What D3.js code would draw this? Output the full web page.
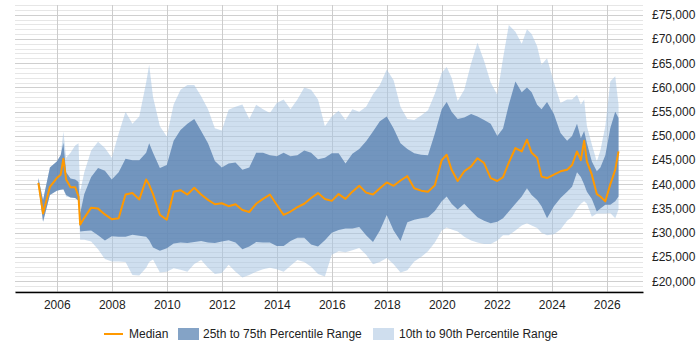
<!DOCTYPE html>
<html lang="en">
<head>
<meta charset="utf-8">
<title>Salary percentiles</title>
<script src="https://d3js.org/d3.v7.min.js"></script>
<style>
  body { margin: 0; background: #fff; }
  svg text { font-family: "Liberation Sans", Arial, sans-serif; font-size: 12px; fill: #222; }
</style>
</head>
<body>
<svg width="700" height="350"></svg>
<script>
// dates as decimal years
var dates = [2005.33,2005.5,2005.75,2006.0,2006.14,2006.24,2006.34,2006.5,2006.67,2006.79,2006.85,2007.0,2007.25,2007.5,2007.75,2008.0,
  2008.25,2008.5,2008.75,2009.0,2009.25,2009.36,2009.5,2009.75,2010.0,2010.25,2010.5,2010.75,2011.0,2011.25,2011.5,2011.75,
  2012.0,2012.25,2012.5,2012.75,2013.0,2013.25,2013.5,2013.75,2014.0,2014.25,2014.5,2014.75,2015.0,2015.25,2015.5,2015.75,
  2016.0,2016.25,2016.5,2016.75,2017.0,2017.25,2017.5,2017.75,2018.0,2018.25,2018.5,2018.75,2019.0,2019.25,2019.5,2019.75,
  2020.0,2020.18,2020.36,2020.58,2020.82,2021.07,2021.3,2021.54,2021.78,2022.02,2022.23,2022.44,2022.68,2022.91,2023.1,2023.27,
  2023.47,2023.63,2023.83,2024.08,2024.32,2024.56,2024.74,2024.92,2025.06,2025.18,2025.28,2025.46,2025.64,2025.77,2025.95,
  2026.13,2026.31,2026.43];

// values in £ thousands
var median = [40.3,34.0,39.5,41.3,42.0,45.3,41.0,39.4,39.4,37.5,31.7,33.1,35.2,35.0,33.8,32.8,
  33.0,37.9,38.2,36.9,41.0,39.9,38.0,33.7,32.7,38.5,38.8,37.9,39.3,37.9,36.8,35.9,
  36.1,35.5,35.9,34.7,34.3,36.0,37.0,37.9,35.8,33.7,34.4,35.3,36.0,37.2,38.2,37.0,
  36.6,38.0,37.0,38.5,39.7,38.3,37.9,39.2,40.4,39.7,40.8,41.7,39.2,38.7,38.5,39.8,
  45.0,46.1,43.0,40.7,42.7,43.7,45.4,44.4,41.3,40.7,41.5,44.5,47.5,46.8,49.2,46.5,
  45.5,41.6,41.3,42.0,42.7,43.0,44.0,46.8,45.0,49.0,44.7,42.0,38.0,37.5,36.5,
  40.0,43.0,46.8];
var p25 = [39.8,32.3,37.8,38.7,38.9,39.0,37.8,37.3,37.2,36.6,30.3,30.4,30.5,29.5,28.4,29.3,
  29.2,29.2,29.6,29.4,29.2,28.5,27.0,26.3,26.8,27.8,28.0,27.9,28.1,28.3,28.0,27.9,
  28.2,28.5,28.0,26.6,27.2,28.1,28.0,28.0,27.3,27.3,28.3,29.0,29.0,27.6,27.2,28.5,
  30.0,30.6,30.9,30.9,31.2,29.5,28.1,30.5,33.7,30.5,28.3,32.2,32.7,33.0,33.2,34.5,
  36.5,37.5,36.0,34.8,36.0,34.5,33.2,32.5,32.0,32.3,33.0,34.4,36.0,37.5,39.2,37.8,
  36.8,35.5,33.0,35.5,37.2,38.5,39.5,42.5,41.5,40.0,38.5,37.0,34.4,35.0,35.8,
  35.8,36.5,37.5];
var p75 = [41.3,36.8,43.5,44.7,46.0,48.6,42.5,41.2,41.0,40.5,34.0,38.0,41.5,43.4,42.8,41.0,
  42.5,45.3,45.0,45.0,46.5,48.5,46.5,43.4,44.0,49.0,51.2,52.5,53.5,51.0,48.5,44.8,
  43.5,44.3,44.5,43.0,43.5,46.5,46.5,46.0,45.8,46.5,45.8,46.0,47.0,46.5,45.2,45.5,
  46.4,46.4,44.3,46.3,47.3,48.9,50.9,53.0,54.0,51.5,48.5,47.3,46.4,46.1,46.0,50.5,
  55.5,57.0,55.0,53.5,53.8,54.5,54.0,53.3,52.5,50.0,51.5,56.4,61.2,59.0,60.0,59.0,
  56.4,55.5,57.0,54.5,50.6,49.0,50.0,52.5,49.5,51.0,48.5,44.7,42.7,43.5,46.0,
  51.6,55.0,53.7];
var p10 = [39.8,32.3,37.8,38.7,38.9,39.0,37.5,37.3,37.2,36.6,28.6,28.6,28.2,26.6,24.6,24.1,
  24.1,24.0,21.3,21.2,22.8,24.0,24.5,21.8,22.0,22.7,22.4,22.0,23.6,24.4,22.8,21.5,
  21.7,23.4,22.0,20.8,21.3,22.0,22.5,22.8,22.5,22.0,23.2,24.4,24.0,23.0,21.5,21.0,
  25.5,26.2,26.0,26.4,26.9,25.5,23.5,24.0,24.8,23.5,21.8,22.3,24.1,25.0,26.2,28.0,
  30.5,31.1,30.7,30.3,29.2,28.4,28.0,27.7,27.7,28.4,29.5,29.5,30.5,31.5,32.0,31.5,
  31.0,30.0,29.5,29.7,30.7,32.5,33.3,35.0,36.0,36.5,36.0,33.3,34.0,34.0,34.0,
  34.1,33.0,34.8];
var p90 = [41.3,36.8,43.5,44.7,46.0,50.9,45.5,46.5,48.0,48.5,38.5,42.5,47.0,48.8,47.5,45.5,
  50.5,55.0,52.5,54.0,61.0,64.7,58.0,52.0,49.9,56.5,59.5,60.5,60.5,58.2,55.5,51.6,
  51.1,55.4,56.0,56.5,53.5,56.4,55.5,54.7,56.8,57.5,55.5,57.5,60.0,59.5,57.5,52.0,
  54.0,55.2,53.3,55.5,55.0,56.0,58.6,60.5,63.7,61.5,56.0,53.5,53.3,54.2,55.3,58.7,
  63.0,64.2,62.0,57.2,59.5,65.0,69.2,65.5,61.0,58.5,66.0,72.9,71.5,69.0,72.0,71.0,
  68.5,64.7,66.0,61.0,56.8,57.5,57.5,58.5,56.5,57.5,52.0,48.2,44.7,47.0,52.0,
  61.2,62.3,56.4];

var yTicks = [20000,25000,30000,35000,40000,45000,50000,55000,60000,65000,70000,75000];
var xTicks = [2006,2008,2010,2012,2014,2016,2018,2020,2022,2024,2026];
var legendLabels = ["Median","25th to 75th Percentile Range","10th to 90th Percentile Range"];

var rows = dates.map(function(d,i){
  return {t:d, med:median[i]*1000, p25:p25[i]*1000, p75:p75[i]*1000, p10:p10[i]*1000, p90:p90[i]*1000};
});

var svg = d3.select("svg");
var plotLeft = 15, plotRight = 643, plotTop = 5, plotBottom = 292;

var x = d3.scaleLinear().domain([2004.48, 2027.32]).range([plotLeft, plotRight]);
var y = d3.scaleLinear().domain([17800, 77000]).range([plotBottom, plotTop]);

// horizontal grid, minor every 1000 and major every 5000
var grid = svg.append("g");
grid.selectAll("line.h")
  .data(d3.range(18000, 77001, 1000))
  .enter().append("line")
  .attr("x1", plotLeft).attr("x2", plotRight)
  .attr("y1", function(d){ return Math.round(y(d))+0.5; })
  .attr("y2", function(d){ return Math.round(y(d))+0.5; })
  .attr("stroke", function(d){ return d % 5000 === 0 ? "#cfcfcf" : "#e6e6e6"; })
  .attr("stroke-width", 1);
grid.selectAll("line.v")
  .data(xTicks)
  .enter().append("line")
  .attr("x1", function(d){ return Math.round(x(d))+0.5; })
  .attr("x2", function(d){ return Math.round(x(d))+0.5; })
  .attr("y1", plotTop).attr("y2", plotBottom)
  .attr("stroke", "#cccccc");

// bands
var band10 = d3.area().x(function(d){ return x(d.t); })
  .y0(function(d){ return y(d.p10); }).y1(function(d){ return y(d.p90); });
var band25 = d3.area().x(function(d){ return x(d.t); })
  .y0(function(d){ return y(d.p25); }).y1(function(d){ return y(d.p75); });
var medLine = d3.line().x(function(d){ return x(d.t); }).y(function(d){ return y(d.med); });

svg.append("path").datum(rows).attr("d", band10)
  .attr("fill", "#a8c4e2").attr("fill-opacity", 0.55);
svg.append("path").datum(rows).attr("d", band25)
  .attr("fill", "#5a82b2").attr("fill-opacity", 0.8);
svg.append("path").datum(rows).attr("d", medLine)
  .attr("fill", "none").attr("stroke", "#ff9900").attr("stroke-width", 2)
  .attr("stroke-linejoin", "round");

// x axis
var xAxis = d3.axisBottom(x).tickValues(xTicks).tickFormat(d3.format("d")).tickSize(0).tickPadding(8);
var gx = svg.append("g").attr("transform", "translate(0," + plotBottom + ")").call(xAxis);
gx.select(".domain").attr("stroke", "#000").attr("stroke-width", 1.5);
gx.selectAll("text").style("font-size", "12px");

// y axis on the right
var yAxis = d3.axisRight(y).tickValues(yTicks)
  .tickFormat(function(d){ return "£" + d3.format(",")(d); })
  .tickSize(0).tickPadding(9);
var gy = svg.append("g").attr("transform", "translate(" + plotRight + ",0)").call(yAxis);
gy.select(".domain").remove();
gy.selectAll("text").style("font-size", "12px");

// legend
var lg = svg.append("g").attr("transform", "translate(0,334)");
lg.append("line").attr("x1", 104).attr("x2", 123).attr("y1", 0).attr("y2", 0)
  .attr("stroke", "#ff9900").attr("stroke-width", 2);
lg.append("text").attr("x", 129).attr("y", 0).attr("dy", "0.35em").text(legendLabels[0]);
lg.append("rect").attr("x", 178).attr("y", -6).attr("width", 21).attr("height", 12).attr("fill", "#84a3c6");
lg.append("text").attr("x", 203).attr("y", 0).attr("dy", "0.35em").text(legendLabels[1]);
lg.append("rect").attr("x", 373).attr("y", -6).attr("width", 21).attr("height", 12).attr("fill", "#cfdeee");
lg.append("text").attr("x", 399).attr("y", 0).attr("dy", "0.35em").text(legendLabels[2]);
</script>
</body>
</html>
